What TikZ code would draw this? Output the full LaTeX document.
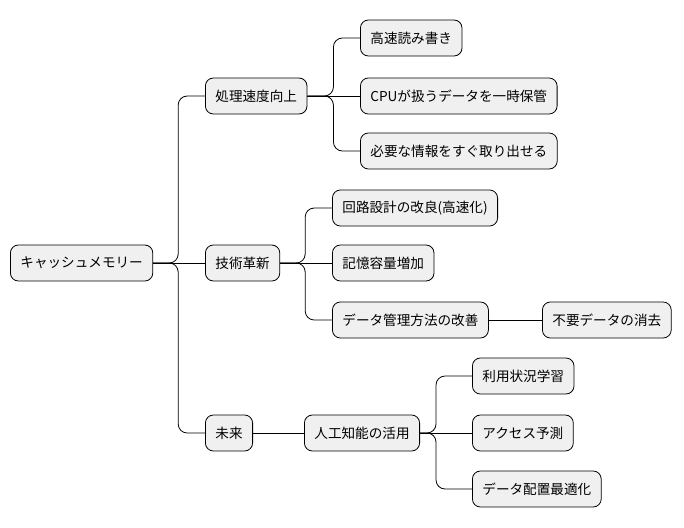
\documentclass[tikz,border=0pt]{standalone}
\usepackage{fontspec}
\newfontfamily\jp{Noto Sans CJK JP}
\begin{document}
\begin{tikzpicture}[x=1pt,y=-1pt,
  box/.style={draw=black,fill=black!6,rounded corners=8pt,minimum height=36pt,inner xsep=10pt,anchor=west,font=\jp\fontsize{13.6}{15}\selectfont,line width=0.8pt},
  conn/.style={draw=black,line width=0.8pt,rounded corners=9pt}]
\useasboundingbox (0,0) rectangle (684,527);
\node[box] (r) at (10,263) {キャッシュメモリー};
\node[box] (a) at (205,96) {処理速度向上};
\node[box] (b) at (205,263) {技術革新};
\node[box] (c) at (205,433) {未来};
\node[box] (a1) at (360,38) {高速読み書き};
\node[box] (a2) at (360,96) {CPUが扱うデータを一時保管};
\node[box] (a3) at (360,151) {必要な情報をすぐ取り出せる};
\node[box] (b1) at (332,208) {回路設計の改良(高速化)};
\node[box] (b2) at (332,263) {記憶容量増加};
\node[box] (b3) at (332,320) {データ管理方法の改善};
\node[box] (b31) at (542,320) {不要データの消去};
\node[box] (c1) at (304,433) {人工知能の活用};
\node[box] (c11) at (472,376) {利用状況学習};
\node[box] (c12) at (472,433) {アクセス予測};
\node[box] (c13) at (472,489) {データ配置最適化};
\foreach \p/\c/\g in {r/a/25,r/c/25,a/a1/26,a/a3/26,b/b1/25,b/b3/25,c1/c11/16,c1/c13/16}
  \draw[conn] (\p.east) -- ++(\g,0) |- (\c.west);
\foreach \p/\c in {r/b,a/a2,b/b2,b3/b31,c/c1,c1/c12}
  \draw[conn] (\p.east) -- (\c.west);
\end{tikzpicture}
\end{document}
